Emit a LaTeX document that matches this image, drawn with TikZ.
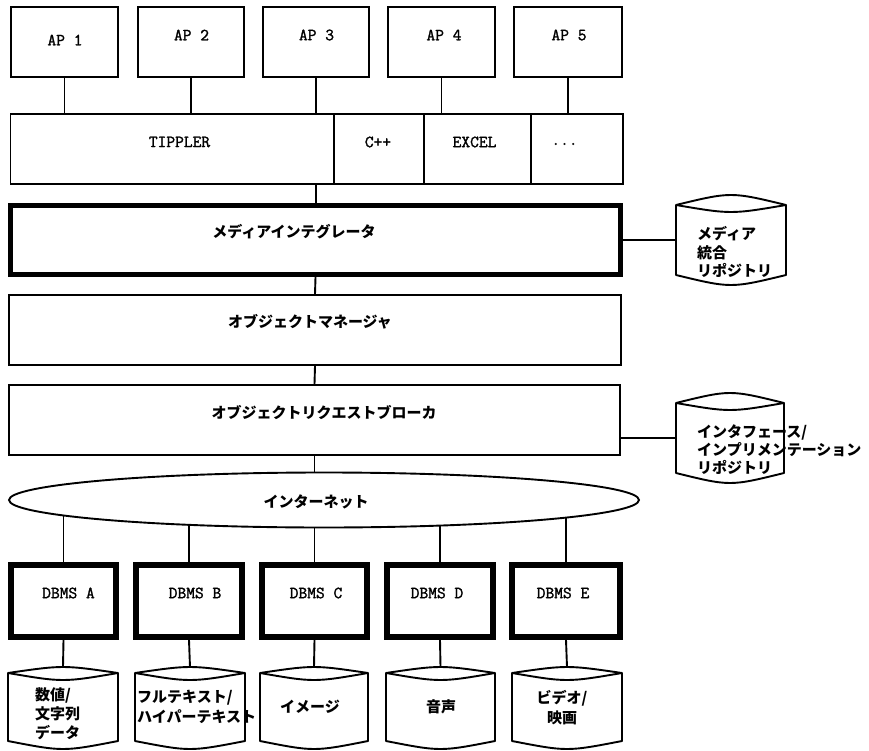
\documentclass[tikz,border=0pt]{standalone}
\usepackage{fontspec}
\newfontfamily\jp{Noto Sans CJK JP}
\newfontfamily\mono{Latin Modern Mono}[FakeBold=1.6]
\usetikzlibrary{calc,shapes.geometric}
\pgfdeclarelayer{bg}
\pgfsetlayers{bg,main}
\tikzset{
 ln/.style={line width=1.9pt},
 box/.style={draw, line width=1.9pt, fill=white, rectangle, inner sep=0pt},
 thickbox/.style={box, line width=5pt},
 dbbox/.style={box, line width=6pt},
 cylnode/.style={rectangle, inner sep=0pt, outer sep=0pt},
 tt/.style={font=\mono\fontsize{17}{20}\selectfont, inner sep=0pt},
 jl/.style={font=\jp\bfseries\fontsize{15}{18.5}\selectfont, inner sep=0pt},
}
\newcommand\cylshape[4]{%
 \draw[ln, line join=round] ($(#1.north west)+(0,#2)$) .. controls ($(#1.north)+(0,{-#2/3})$) .. ($(#1.north east)+(0,#2)$)
   -- ($(#1.south east)+(0,-#4)$) .. controls ($(#1.south)+(0,{#4/3})$) .. ($(#1.south west)+(0,-#4)$) -- cycle;
 \draw[ln] ($(#1.north west)+(0,#2)$) .. controls ($(#1.north)+(0,{#2+4*#3/3})$) .. ($(#1.north east)+(0,#2)$);}
\begin{document}
\begin{tikzpicture}[x=1pt,y=-1pt]
\useasboundingbox (0,0) rectangle (869,751);
% AP boxes
\node[box, minimum width=107, minimum height=70] (ap1) at (64.5,42) {};
\node[box, minimum width=106, minimum height=70] (ap2) at (191,42) {};
\node[box, minimum width=106, minimum height=70] (ap3) at (316,42) {};
\node[box, minimum width=107, minimum height=70] (ap4) at (441.5,42) {};
\node[box, minimum width=108, minimum height=70] (ap5) at (568,42) {};
\node[tt] (lap1) at (65,40) {AP 1};
\node[tt] (lap2) at (191.5,35) {AP 2};
\node[tt] (lap3) at (316.5,35) {AP 3};
\node[tt] (lap4) at (444,35) {AP 4};
\node[tt] (lap5) at (569,35) {AP 5};
% language row
\node[box, minimum width=323, minimum height=70] (tip) at (172,149) {};
\node[box, minimum width=90, minimum height=70] (cpp) at (379,149) {};
\node[box, minimum width=107, minimum height=70] (excel) at (477.5,149) {};
\node[box, minimum width=92, minimum height=70] (dots) at (577,149) {};
\node[tt] (ltip) at (179.5,142) {TIPPLER};
\node[tt] (lcpp) at (378,142) {C++};
\node[tt] (lexcel) at (474.5,142) {EXCEL};
\node[tt] (ldots) at (564.5,144) {...};
% layers
\node[thickbox, minimum width=610, minimum height=69] (mi) at (315.5,240) {};
\node[jl] (lmi) at (294,232) {メディアインテグレータ};
\node[box, minimum width=612, minimum height=70] (om) at (315,330) {};
\node[jl] (lom) at (310,322) {オブジェクトマネージャ};
\node[box, minimum width=611, minimum height=70] (orb) at (314.5,420) {};
\node[jl] (lorb) at (324,413) {オブジェクトリクエストブローカ};
% repositories
\node[cylnode, minimum width=110, minimum height=90] (c1) at (731,240) {};
\cylshape{c1}{10}{7}{10}
\node[jl, align=left, anchor=west] (lc1) at (697,252) {メディア\\統合\\リポジトリ};
\node[cylnode, minimum width=108, minimum height=90] (c2) at (730,438) {};
\cylshape{c2}{10}{7}{10}
\node[jl, align=left, anchor=west, font=\jp\bfseries\fontsize{15}{18}\selectfont] (lc2) at (697,450) {インタフェース/\\インプリメンテーション\\リポジトリ};
% network
\node[draw, ln, ellipse, fill=white, minimum width=630, minimum height=55, inner sep=0pt] (net) at (324,500) {};
\node[jl] (lnet) at (316,502) {インターネット};
% DBMS
\node[dbbox, minimum width=105, minimum height=72] (dA) at (63.5,601) {};
\node[dbbox, minimum width=106, minimum height=72] (dB) at (189,601) {};
\node[dbbox, minimum width=105, minimum height=72] (dC) at (314.5,601) {};
\node[dbbox, minimum width=106, minimum height=72] (dD) at (440,601) {};
\node[dbbox, minimum width=108, minimum height=72] (dE) at (566,601) {};
\node[tt] (ldA) at (68.5,593) {DBMS A};
\node[tt] (ldB) at (195,593) {DBMS B};
\node[tt] (ldC) at (316,593) {DBMS C};
\node[tt] (ldD) at (437,593) {DBMS D};
\node[tt] (ldE) at (563,593) {DBMS E};
% data stores
\node[cylnode, minimum width=110, minimum height=82] (cA) at (63,708) {};
\node[cylnode, minimum width=110, minimum height=82] (cB) at (190,708) {};
\node[cylnode, minimum width=108, minimum height=82] (cC) at (314,708) {};
\node[cylnode, minimum width=109, minimum height=82] (cD) at (440.5,708) {};
\node[cylnode, minimum width=110, minimum height=82] (cE) at (567,708) {};
\cylshape{cA}{6}{7}{8}
\cylshape{cB}{6}{7}{8}
\cylshape{cC}{6}{7}{8}
\cylshape{cD}{6}{7}{8}
\cylshape{cE}{6}{7}{8}
\node[jl, align=left, anchor=west, font=\jp\bfseries\fontsize{15}{19}\selectfont] (lcA) at (35,714) {数値/\\文字列\\データ};
\node[jl, align=left, anchor=west, font=\jp\bfseries\fontsize{15}{20}\selectfont] (lcB) at (137,707) {フルテキスト/\\ハイパーテキスト};
\node[jl] (lcC) at (310,707) {イメージ};
\node[jl] (lcD) at (441,707) {音声};
\node[jl, align=center, font=\jp\bfseries\fontsize{15}{20}\selectfont] (lcE) at (562,708) {ビデオ/\\映画};
% connectors
\draw[ln] (ap1.south) -- (ap1.south |- tip.north);
\draw[ln] (ap2.south) -- (ap2.south |- tip.north);
\draw[ln] (ap3.south) -- (ap3.south |- tip.north);
\draw[ln] (ap4.south) -- (ap4.south |- excel.north);
\draw[ln] (ap5.south) -- (ap5.south |- dots.north);
\draw[ln] (ap3.south |- tip.south) -- (ap3.south |- mi.north);
\draw[ln] (mi.south) -- (om.north);
\draw[ln] (om.south) -- (orb.north);
\draw[ln] (orb.south) -- (orb.south |- net.north);
\draw[ln] (mi.east) -- (c1.west);
\draw[ln] (c2.west -| orb.east) -- (c2.west);
\begin{pgfonlayer}{bg}
\draw[ln] (dA.north) -- (dA.north |- net.center);
\draw[ln] (dB.north) -- (dB.north |- net.center);
\draw[ln] (dC.north) -- (dC.north |- net.center);
\draw[ln] (dD.north) -- (dD.north |- net.center);
\draw[ln] (dE.north) -- (dE.north |- net.center);
\end{pgfonlayer}
\draw[ln] (dA.south) -- (cA.north);
\draw[ln] (dB.south) -- (cB.north);
\draw[ln] (dC.south) -- (cC.north);
\draw[ln] (dD.south) -- (cD.north);
\draw[ln] (dE.south) -- (cE.north);
\end{tikzpicture}
\end{document}
